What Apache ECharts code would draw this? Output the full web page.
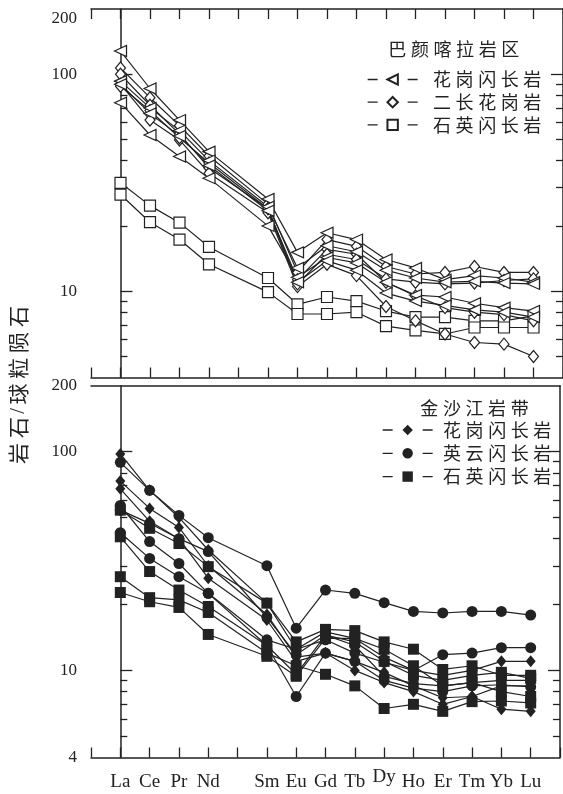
<!DOCTYPE html>
<html>
<head>
<meta charset="utf-8">
<script src="https://cdn.jsdelivr.net/npm/echarts@6/dist/echarts.min.js"></script>
<style>
html,body{margin:0;padding:0;background:#fff;}
#chart{width:563px;height:794px;}
</style>
</head>
<body>
<div id="chart"></div>
<script>
// ---- Data ----
const elements = ['La','Ce','Pr','Nd','Pm','Sm','Eu','Gd','Tb','Dy','Ho','Er','Tm','Yb','Lu'];
const reeUsed  = ['La','Ce','Pr','Nd','Sm','Eu','Gd','Tb','Dy','Ho','Er','Tm','Yb','Lu'];

// Top panel: 巴颜喀拉岩区
const topGranodiorite1 = [128, 86, 61.5, 44, 26.6, 15.1, 18.6, 17.3, 14.0, 12.8, 11.3, 11.8, 11.5, 11.0];
const topGranodiorite2 = [74, 52.5, 41.8, 33.2, 20.0, 11.6, 14.3, 13.5, 11.0, 9.6, 9.4, 8.8, 8.4, 8.1];
const topGranodiorite3 = [93, 70, 55, 40, 24.5, 12.8, 16.2, 15.2, 12.5, 11.5, 11.0, 11.1, 10.9, 10.8];
const topGranodiorite4 = [90, 66, 52, 38, 23.5, 11.0, 13.8, 12.5, 9.8, 9.0, 8.6, 8.2, 8.0, 7.6];
const topMonzogranite1 = [107, 78, 58, 42, 25.2, 12.2, 17.3, 16.1, 13.0, 12.0, 12.2, 13.0, 12.2, 12.2];
const topMonzogranite2 = [100, 72, 53, 37, 24, 11.3, 15.6, 14.8, 11.0, 9.5, 8.4, 8.0, 7.8, 7.3];
const topMonzogranite3 = [90, 61.5, 49.8, 35, 23, 10.5, 13.3, 11.8, 8.5, 7.3, 6.35, 5.8, 5.7, 5.0];
const topMonzogranite4 = [88, 68, 51, 39, 24, 10.8, 14.8, 14.0, 11.4, 11.0, 10.8, 10.9, 11.2, 11.4];
const topQzDiorite1 = [31.6, 24.8, 20.7, 16.0, 11.5, 8.7, 9.4, 9.0, 8.1, 7.6, 7.6, 7.3, 7.3, 7.7];
const topQzDiorite2 = [27.9, 20.8, 17.3, 13.3, 9.9, 7.85, 7.85, 8.0, 6.9, 6.6, 6.35, 6.8, 6.8, 6.8];

// Bottom panel: 金沙江岩带
const botGranodiorite1 = [97.6, 66.5, 50, 35.5, 20.3, 12.5, 15.0, 14.0, 11.5, 10.0, 9.5, 10.0, 11.0, 11.0];
const botGranodiorite2 = [73.3, 55, 45, 30, 18, 11.5, 12.0, 11.0, 9.8, 8.5, 7.5, 7.6, 8.5, 8.5];
const botGranodiorite3 = [67.6, 48, 40, 26.4, 17, 11.0, 12.0, 10.0, 8.8, 8.0, 7.0, 7.6, 6.65, 6.5];
const botTonalite1 = [89.3, 66.5, 51.1, 40.4, 30.1, 15.6, 23.3, 22.5, 20.4, 18.6, 18.3, 18.6, 18.6, 17.9];
const botTonalite2 = [56.7, 38.8, 30.8, 22.5, 13.0, 7.6, 12.0, 11.0, 9.0, 8.3, 8.0, 8.5, 8.6, 8.4];
const botTonalite3 = [42.6, 32.5, 26.8, 22.5, 13.8, 12.5, 13.8, 12.0, 10.9, 10.0, 11.8, 12.0, 12.7, 12.7];
const botTonalite4 = [54, 47, 40, 34.9, 17.5, 11.8, 14.5, 13.0, 9.4, 8.7, 8.5, 8.8, 9.0, 9.0];
const botQzDiorite1 = [54, 44.6, 38, 29.8, 20.3, 13.5, 15.4, 15.2, 13.5, 12.5, 10.1, 10.5, 9.5, 9.5];
const botQzDiorite2 = [40.8, 28.3, 23.3, 19.6, 13.0, 9.6, 14.5, 13.5, 11.0, 9.5, 9.0, 9.5, 9.8, 9.2];
const botQzDiorite3 = [26.8, 21.5, 21.0, 18.4, 12.0, 10.5, 9.6, 8.5, 6.7, 7.0, 6.5, 7.2, 7.25, 7.1];
const botQzDiorite4 = [22.7, 20.6, 19.4, 14.6, 11.6, 9.4, 14.0, 14.0, 12.5, 10.5, 8.5, 8.8, 8.0, 7.6];

const yMajorTicks = [10, 100];
const yMinorTicks = [5, 6, 7, 8, 9, 20, 30, 40, 50, 60, 70, 80, 90];
const yLabelsTop = [10, 100, 200];
const yLabelsBottom = [4, 10, 100, 200];

const topTitle = '巴颜喀拉岩区';
const bottomTitle = '金沙江岩带';
const legendTextTop = {A1: '花岗闪长岩', A2: '二长花岗岩', A3: '石英闪长岩'};
const legendTextBottom = {B1: '花岗闪长岩', B2: '英云闪长岩', B3: '石英闪长岩'};
const yTitle = '岩石/球粒陨石';

// ---- Styling ----
const INK = '#222';
const SERIF = 'Liberation Serif';
const CJK = 'Noto Sans CJK SC';

function spaced(str, first) {
  return str.split('').map((ch, i) => '{' + (i === 0 && first ? first : 'c') + '|' + ch + '}').join('');
}
const cjkRich = (size, firstPad, gap) => {
  const g = gap == null ? 2.3 : gap;
  return {
    c: {fontFamily: CJK, fontSize: size, color: INK, padding: [0, g, 0, g], lineHeight: size},
    f: {fontFamily: CJK, fontSize: size, color: INK, padding: [0, g, 0, g + (firstPad || 0)], lineHeight: size},
    s: {fontFamily: SERIF, fontSize: size, color: INK, padding: [0, 1, 0, 1], lineHeight: size}
  };
};

function makeSeries(name, vals, grid, symbol, size, filled, rotate) {
  return {
    type: 'line', name: name,
    xAxisIndex: grid === 0 ? 0 : 2,
    yAxisIndex: grid === 0 ? 0 : 4,
    data: vals.map((v, i) => [elements.indexOf(reeUsed[i]), v]),
    symbol: symbol, symbolSize: size, symbolRotate: rotate || 0,
    showSymbol: true,
    lineStyle: {color: INK, width: 1.2},
    itemStyle: filled ? {color: INK, borderWidth: 0} : {color: '#fff', borderColor: INK, borderWidth: 1.2},
    emphasis: {disabled: true},
    z: 3
  };
}

const series = [
  makeSeries('A3', topQzDiorite1, 0, 'rect', 11, false),
  makeSeries('A3', topQzDiorite2, 0, 'rect', 11, false),
  makeSeries('A2', topMonzogranite1, 0, 'diamond', [10, 12], false),
  makeSeries('A2', topMonzogranite2, 0, 'diamond', [10, 12], false),
  makeSeries('A2', topMonzogranite3, 0, 'diamond', [10, 12], false),
  makeSeries('A2', topMonzogranite4, 0, 'diamond', [10, 12], false),
  makeSeries('A1', topGranodiorite1, 0, 'triangle', [11, 12], false, 90),
  makeSeries('A1', topGranodiorite2, 0, 'triangle', [11, 12], false, 90),
  makeSeries('A1', topGranodiorite3, 0, 'triangle', [11, 12], false, 90),
  makeSeries('A1', topGranodiorite4, 0, 'triangle', [11, 12], false, 90),
  makeSeries('B1', botGranodiorite1, 1, 'diamond', [10, 12], true),
  makeSeries('B1', botGranodiorite2, 1, 'diamond', [10, 12], true),
  makeSeries('B1', botGranodiorite3, 1, 'diamond', [10, 12], true),
  makeSeries('B2', botTonalite1, 1, 'circle', 11, true),
  makeSeries('B2', botTonalite2, 1, 'circle', 11, true),
  makeSeries('B2', botTonalite3, 1, 'circle', 11, true),
  makeSeries('B2', botTonalite4, 1, 'circle', 11, true),
  makeSeries('B3', botQzDiorite1, 1, 'rect', 11, true),
  makeSeries('B3', botQzDiorite2, 1, 'rect', 11, true),
  makeSeries('B3', botQzDiorite3, 1, 'rect', 11, true),
  makeSeries('B3', botQzDiorite4, 1, 'rect', 11, true)
];

function xAxisCfg(grid, position, showTicks, showLabels) {
  return {
    type: 'value', gridIndex: grid, position: position,
    min: -1, max: 15, interval: 1,
    axisLine: {show: true, onZero: false, lineStyle: {color: INK, width: 1.5}},
    axisTick: {show: showTicks, inside: true, length: 10, lineStyle: {color: INK, width: 1.3}},
    splitLine: {show: false},
    axisLabel: showLabels ? {
      show: true, margin: 25, verticalAlign: 'middle',
      fontFamily: SERIF, fontSize: 19, color: INK,
      formatter: v => {
        const n = elements[v];
        if (!n || n === 'Pm') return '';
        return n === 'Dy' ? '{dy|Dy}' : n;
      },
      rich: {dy: {fontFamily: SERIF, fontSize: 19, color: INK, padding: [0, 0, 10, 0]}}
    } : {show: false}
  };
}

function yAxisCfg(grid, position, major, labels, isTop) {
  const cfg = {
    type: 'log', logBase: 10, gridIndex: grid, position: position,
    min: 4, max: 200,
    splitLine: {show: false},
    axisLine: {show: major, lineStyle: {color: INK, width: 1.5}},
    axisTick: {show: true, inside: true, length: major ? 12 : 7,
      customValues: major ? yMajorTicks : yMinorTicks,
      lineStyle: {color: INK, width: 1.3}},
    axisLabel: {show: false}
  };
  if (labels) {
    cfg.axisLabel = {
      show: true, customValues: labels, margin: 14,
      fontFamily: SERIF, fontSize: 17, color: INK,
      formatter: v => {
        const r = Math.round(v);
        if (isTop && r === 200) return '{t|200}';
        return String(r);
      },
      rich: {t: {fontFamily: SERIF, fontSize: 17, color: INK, padding: [20, 0, 0, 0]}}
    };
  }
  return cfg;
}

const option = {
  animation: false,
  backgroundColor: '#fff',
  grid: [
    {left: 91, top: 9, width: 477, height: 368.5, containLabel: false},
    {left: 91, top: 385.7, width: 477, height: 371.8, containLabel: false}
  ],
  xAxis: [
    xAxisCfg(0, 'bottom', true, false),
    xAxisCfg(0, 'top', true, false),
    xAxisCfg(1, 'bottom', true, true),
    xAxisCfg(1, 'top', false, false)
  ],
  yAxis: [
    yAxisCfg(0, 'left', true, yLabelsTop, true),
    yAxisCfg(0, 'left', false, null),
    yAxisCfg(0, 'right', true, null),
    yAxisCfg(0, 'right', false, null),
    yAxisCfg(1, 'left', true, yLabelsBottom, false),
    yAxisCfg(1, 'left', false, null),
    yAxisCfg(1, 'right', true, null),
    yAxisCfg(1, 'right', false, null)
  ],
  title: [
    {text: spaced(topTitle), left: 386, top: 40, padding: 0,
     textStyle: {fontFamily: CJK, fontSize: 18, fontWeight: 'normal', color: INK, rich: cjkRich(18)}},
    {text: spaced(bottomTitle), left: 418, top: 399, padding: 0,
     textStyle: {fontFamily: CJK, fontSize: 18, fontWeight: 'normal', color: INK, rich: cjkRich(18)}}
  ],
  legend: [
    {data: ['A1', 'A2', 'A3'], orient: 'vertical', left: 367, top: 70.5, padding: 0,
     itemWidth: 50, itemHeight: 13, itemGap: 4.7, selectedMode: false,
     lineStyle: {type: [10, 30], width: 1.3},
     formatter: n => spaced(legendTextTop[n], 'f'),
     textStyle: {fontFamily: CJK, fontSize: 18, color: INK, rich: cjkRich(18, 8)}},
    {data: ['B1', 'B2', 'B3'], orient: 'vertical', left: 382, top: 421, padding: 0,
     itemWidth: 50, itemHeight: 13, itemGap: 5.3, selectedMode: false,
     lineStyle: {type: [10, 30], width: 1.3},
     formatter: n => spaced(legendTextBottom[n], 'f'),
     textStyle: {fontFamily: CJK, fontSize: 18, color: INK, rich: cjkRich(18, 3)}}
  ],
  graphic: [
    {type: 'text', x: 18, y: 385, rotation: Math.PI / 2, silent: true,
     style: {text: yTitle.split('').map(ch => ch === '/' ? '{s|/}' : '{c|' + ch + '}').join(''),
             rich: cjkRich(21, 0, 2.4), align: 'center', verticalAlign: 'middle', fill: INK}}
  ],
  series: series
};

const chart = echarts.init(document.getElementById('chart'), null, {renderer: 'canvas'});
chart.setOption(option);
</script>
</body>
</html>
